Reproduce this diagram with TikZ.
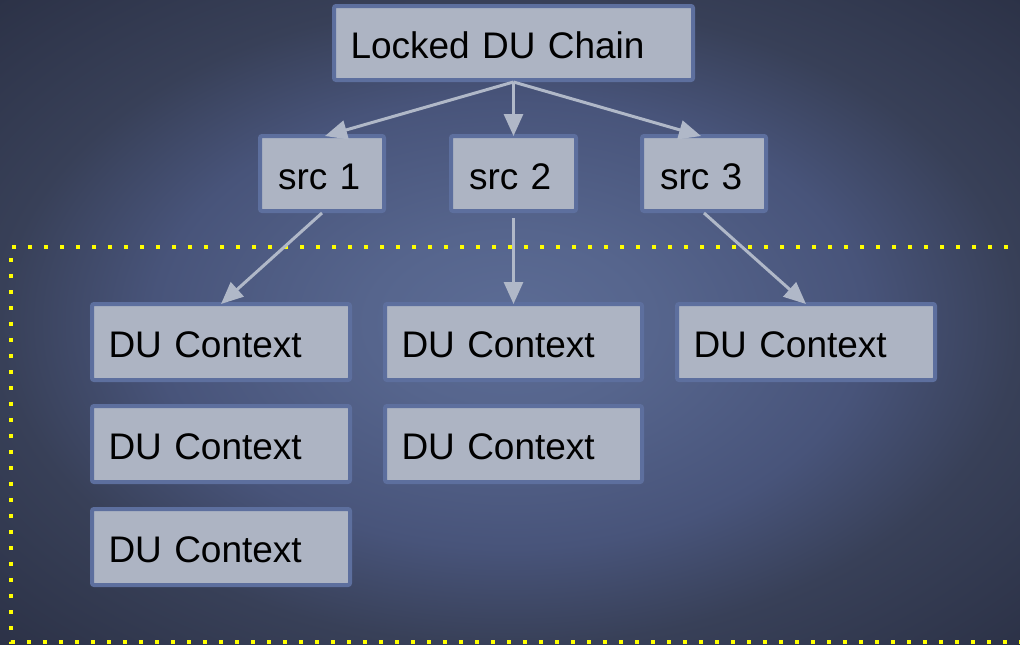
\documentclass[tikz,border=0pt]{standalone}
\usepackage{fontspec}
\setmainfont{Liberation Sans}
\usetikzlibrary{arrows.meta}

\definecolor{bgc0}{HTML}{5C6C95}
\definecolor{bgc1}{HTML}{56658D}
\definecolor{bgc2}{HTML}{48547A}
\definecolor{bgc3}{HTML}{384058}
\definecolor{bgc4}{HTML}{2C3247}
\definecolor{boxfill}{HTML}{ADB4C3}
\definecolor{boxline}{HTML}{5D6F9E}
\definecolor{linkcol}{HTML}{B0B8C8}
\definecolor{zonecol}{HTML}{FFFF00}

% soft glow behind the diagram (25bp = half the page side)
\pgfdeclareradialshading{bgglow}{\pgfpoint{0bp}{0bp}}{color(0bp)=(bgc0); color(7bp)=(bgc1); color(17.5bp)=(bgc2); color(25bp)=(bgc3); color(35.5bp)=(bgc4); color(50bp)=(bgc4)}

\tikzset{
  box/.style={draw=boxline, line width=4pt, fill=boxfill, rounded corners=2pt,
    font=\fontsize{37}{40}\selectfont, align=left, inner xsep=16.5pt, inner ysep=0pt,
    text height=31pt, text depth=0pt},
  srcbox/.style={box, inner xsep=18pt, text width=88pt, minimum height=75pt},
  ctxbox/.style={box, text width=225pt, minimum height=76pt},
  link/.style={draw=linkcol, line width=3pt, -{Triangle[length=22pt,width=19pt]}},
  zone/.style={draw=zonecol, line width=4pt, dash pattern=on 4pt off 12pt}
}

\begin{document}
\begin{tikzpicture}[x=1pt, y=-1pt]
  \useasboundingbox (0,0) rectangle (1020,645);
  \clip (0,0) rectangle (1020,645);
  \shade[shading=bgglow] (0,0) rectangle (1020,645);

  % dotted region holding the contexts
  \coordinate (zoneTR) at (1040,247);
  \coordinate (zoneTL) at (11,247);
  \coordinate (zoneBL) at (11,642);
  \coordinate (zoneBR) at (1040,642);
  \draw[zone] (zoneTR) -- (zoneTL) -- (zoneBL) -- (zoneBR);

  % chain and its sources
  \node[box, text width=326pt, minimum height=74pt] (chain) at (513.5,43) {Locked DU Chain};
  \node[srcbox] (src1) at (322,173.5) {src 1};
  \node[srcbox, text width=89pt] (src2) at (513.5,173.5) {src 2};
  \node[srcbox] (src3) at (704,173.5) {src 3};

  % contexts
  \node[ctxbox] (c11) at (221,342) {DU Context};
  \node[ctxbox, text width=224pt] (c21) at (513.5,342) {DU Context};
  \node[ctxbox] (c31) at (806,342) {DU Context};
  \node[ctxbox] (c12) at (221,444) {DU Context};
  \node[ctxbox, text width=224pt] (c22) at (513.5,444) {DU Context};
  \node[ctxbox] (c13) at (221,547) {DU Context};

  % connectors
  \draw[link] (chain.south) -- ([xshift=3pt,yshift=-2pt]src1.north);
  \draw[link] (chain.south) -- ([yshift=-2pt]src2.north);
  \draw[link] (chain.south) -- ([xshift=-3pt,yshift=-2pt]src3.north);
  \draw[link] (src1.south) -- ([yshift=-2pt]c11.north);
  \draw[link, shorten <=5pt] (src2.south) -- ([yshift=-2pt]c21.north);
  \draw[link] (src3.south) -- ([yshift=-2pt]c31.north);
\end{tikzpicture}
\end{document}
